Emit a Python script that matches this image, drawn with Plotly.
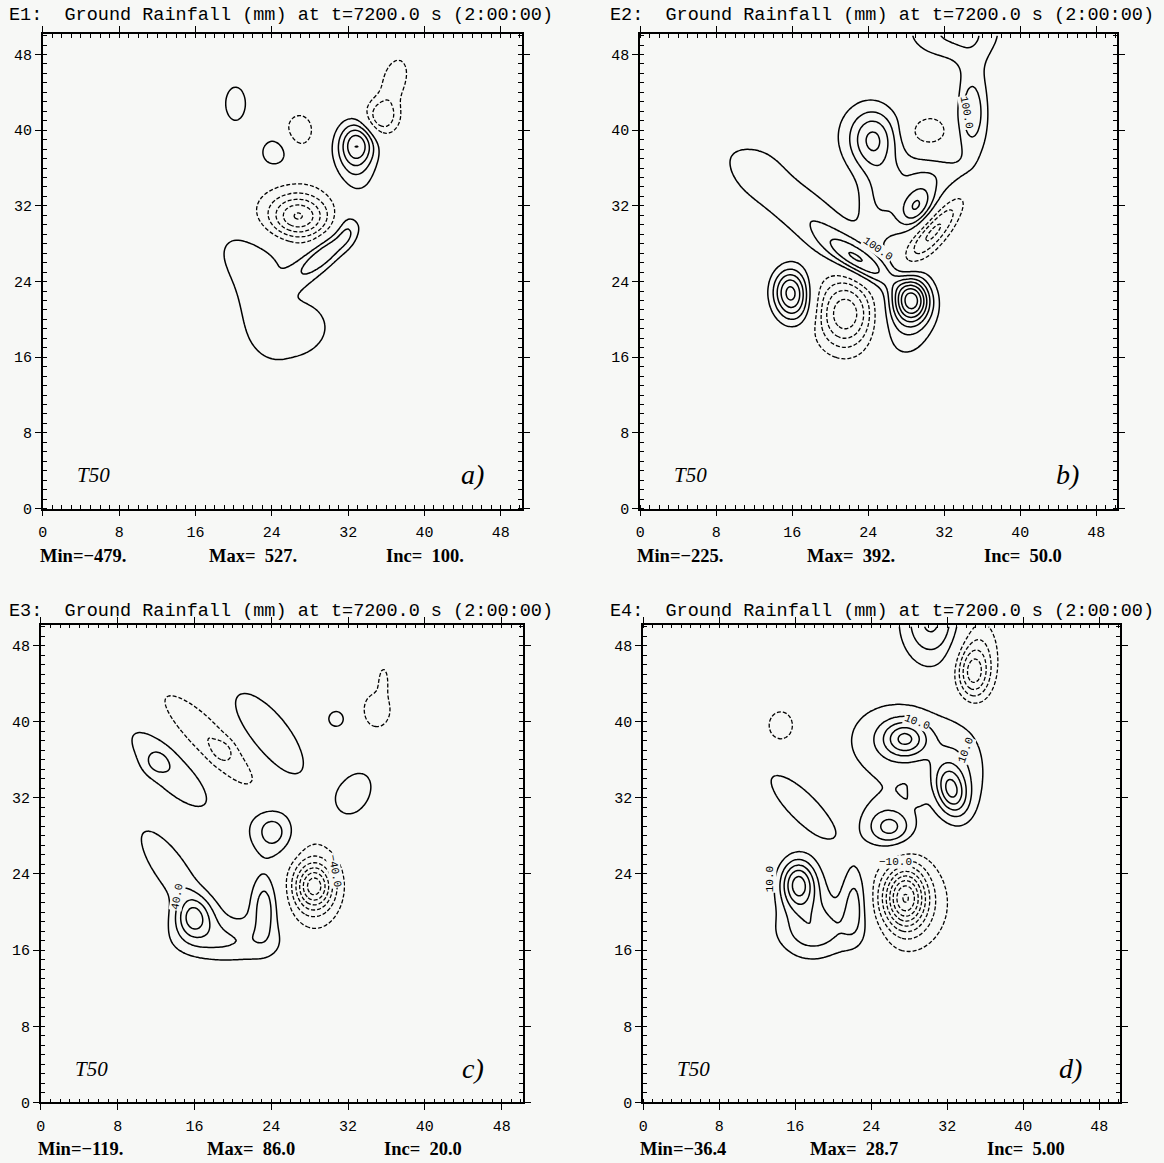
import numpy as np
import plotly.graph_objects as go

# ---------------- data (blob descriptions) ----------------
# each field = sum of elliptical blobs: centre x, centre y, amplitude (mm),
# sigma along the rotated axis, sigma across it, rotation (deg)
a_x   = [33.0, 32.6, 35.5, 36.9, 20.2, 26.9, 24.3, 26.8, 26.4, 29.6, 22.2, 26.0, 21.8, 31.8]
a_y   = [38.6, 36.2, 41.4, 45.4, 42.8, 40.0, 37.6, 30.8, 31.6, 27.0, 26.6, 18.9, 22.5, 29.8]
a_amp = [400, 170, -300, -190, 170, -170, 170, -370, -150, 300, 138, 160, 125, 110]
a_sa  = [1.6, 2.6, 1.4, 1.8, 1.7, 1.5, 1.35, 2.0, 3.5, 2.8, 3.0, 3.7, 3.5, 1.5]
a_sc  = [1.3, 1.6, 1.3, 1.0, 1.0, 1.25, 1.25, 1.5, 2.4, 0.9, 2.0, 2.9, 1.2, 0.8]
a_rot = [90, 100, 70, 75, 90, 90, 90, 0, 0, 41, -20, 10, -70, 90]

b_x   = [28.6, 27.8, 31.0, 21.6, 15.8, 16.6, 23.0, 17.0, 12.5, 24.5, 24.2, 25.2, 30.2, 31.0, 34.8, 35.1, 33.0, 29.0, 29.5, 30.5]
b_y   = [22.0, 20.0, 29.5, 20.6, 23.0, 20.8, 26.2, 31.5, 36.0, 38.9, 39.5, 32.5, 39.8, 43.0, 42.0, 42.0, 50.5, 31.8, 33.0, 35.5]
b_amp = [300, 90, -175, -240, 250, 70, 170, 90, 30, 135, 75, 80, -95, -25, 95, 60, 110, 150, 60, 60]
b_sa  = [1.6, 3.2, 3.5, 2.7, 1.7, 1.5, 3.0, 7.5, 2.0, 1.6, 3.0, 3.0, 1.6, 2.0, 1.0, 5.5, 3.5, 1.7, 3.0, 3.0]
b_sc  = [1.3, 2.2, 1.0, 2.2, 1.3, 1.5, 1.0, 2.0, 2.0, 2.1, 3.0, 1.6, 1.1, 3.0, 2.4, 1.4, 2.2, 1.1, 2.0, 1.3]
b_rot = [90, 90, 50, 90, 90, 0, -33, -38, 0, 0, 0, 90, 0, 90, 0, 90, 0, 60, 0, 0]

c_x   = [15.8, 13.5, 19.5, 23.3, 23.5, 28.5, 28.2, 24.3, 32.6, 30.8, 35.0, 35.7, 13.4, 12.0, 17.6, 19.0, 23.8, 17.0]
c_y   = [19.4, 24.5, 16.8, 20.5, 20.8, 22.7, 22.7, 28.5, 32.4, 40.3, 41.2, 44.6, 35.0, 35.7, 38.0, 37.0, 38.7, 19.0]
c_amp = [62, 38, 34, 32, 24, -95, -40, 52, 32, 26, -32, -24, 36, 18, -40, -15, 40, 15]
c_sa  = [1.5, 4.2, 4.2, 2.0, 3.4, 1.6, 3.8, 1.9, 2.4, 1.1, 1.8, 1.2, 4.8, 0.9, 5.5, 0.8, 4.4, 2.5]
c_sc  = [1.3, 1.4, 1.6, 0.8, 1.6, 1.3, 2.4, 1.7, 1.6, 1.1, 1.4, 0.45, 1.7, 0.9, 1.5, 0.8, 1.7, 2.0]
c_rot = [90, -55, 0, 90, 90, 90, 90, 110, 60, 0, 90, 90, -45, 0, -45, 0, -52, 0]

d_x   = [16.3, 17.5, 22.3, 19.5, 27.6, 27.8, 16.7, 27.6, 26.3, 32.4, 33.2, 26.0, 25.5, 29.0, 30.3, 34.7, 35.3, 14.5]
d_y   = [23.0, 19.5, 21.2, 17.8, 21.5, 20.8, 31.1, 38.2, 38.0, 32.8, 34.5, 28.8, 29.5, 32.5, 50.5, 45.0, 47.5, 39.6]
d_amp = [24, 9, 13, 7, -31, -10, 9, 18, 9, 19, 9, 12, 6, 4, 16, -18, -9, -8]
d_sa  = [1.8, 3.0, 2.6, 4.0, 2.2, 3.8, 4.0, 1.6, 4.0, 1.8, 3.8, 1.6, 2.5, 0.9, 2.2, 1.9, 3.0, 1.5]
d_sc  = [1.3, 2.2, 1.0, 1.8, 1.5, 3.4, 1.3, 1.3, 3.3, 1.1, 2.2, 1.3, 2.5, 0.6, 3.0, 1.2, 1.6, 1.3]
d_rot = [90, 90, 90, 0, 90, 90, -45, 0, 0, 105, 90, 0, 0, 90, 0, 90, 90, 90]

# contour labels visible in the picture: panel index, text, x, y, angle
label_panel = [1, 1, 2, 2, 3, 3, 3, 3]
label_text  = ["100.0", "100.0", "40.0", "\u221240.0", "10.0", "10.0", "\u221210.0", "10.0"]
label_x     = [25.0, 34.3, 14.2, 30.6, 13.3, 34.0, 26.6, 28.8]
label_y     = [27.4, 41.9, 21.6, 24.3, 23.4, 37.0, 25.3, 40.0]
label_ang   = [35, 80, -80, 80, -90, -70, 0, 20]

panel_ids   = ["E1", "E2", "E3", "E4"]
panel_tags  = ["a)", "b)", "c)", "d)"]
panel_min   = ["\u2212479.", "\u2212225.", "\u2212119.", "\u221236.4"]
panel_max   = ["527.", "392.", "86.0", "28.7"]
panel_inc   = [100.0, 50.0, 20.0, 5.00]
panel_inc_t = ["100.", "50.0", "20.0", "5.00"]
tick_vals   = [0, 8, 16, 24, 32, 40, 48]

blobs = [
    (a_x, a_y, a_amp, a_sa, a_sc, a_rot),
    (b_x, b_y, b_amp, b_sa, b_sc, b_rot),
    (c_x, c_y, c_amp, c_sa, c_sc, c_rot),
    (d_x, d_y, d_amp, d_sa, d_sc, d_rot),
]

grid = np.arange(0, 50.25, 0.25)
GX, GY = np.meshgrid(grid, grid)


def field(bx, by, bamp, bsa, bsc, brot):
    z = np.zeros_like(GX)
    for x0, y0, amp, sa, sc, rot in zip(bx, by, bamp, bsa, bsc, brot):
        t = np.deg2rad(rot)
        dx, dy = GX - x0, GY - y0
        u = dx * np.cos(t) + dy * np.sin(t)
        v = -dx * np.sin(t) + dy * np.cos(t)
        z += amp * np.exp(-0.5 * ((u / sa) ** 2 + (v / sc) ** 2))
    return np.round(z, 2)


# ---------------- layout geometry ----------------
W, H = 1164, 1163
xdom = [[38 / W, 519 / W], [638 / W, 1117 / W], [36 / W, 520 / W], [641 / W, 1120 / W]]
ydom = [[1 - 513 / H, 1 - 34 / H], [1 - 513 / H, 1 - 34 / H],
        [1 - 1112 / H, 1 - 630 / H], [1 - 1112 / H, 1 - 630 / H]]
title_y = [16, 16, 617, 617]
title_x = [2, 606, 2, 606]
stat_y = [561, 561, 1159, 1159]

fig = go.Figure()
BG = "#f7f8f6"
FONT = "Liberation Mono"
SERIF = "Liberation Serif"

annotations = []
for i in range(4):
    z = field(*blobs[i])
    inc = panel_inc[i]
    zmax, zmin = z.max(), z.min()
    ax = "" if i == 0 else str(i + 1)
    common = dict(x=grid, y=grid, z=z, showscale=False, hoverinfo="skip",
                  colorscale=[[0, "black"], [1, "black"]],
                  xaxis="x" + ax, yaxis="y" + ax)
    npos = int(np.floor(zmax / inc))
    nneg = int(np.floor(-zmin / inc))
    if npos >= 1:
        fig.add_trace(go.Contour(
            **common, autocontour=False,
            contours=dict(start=inc, end=npos * inc, size=inc, coloring="lines"),
            line=dict(width=1.5, color="black")))
    if nneg >= 1:
        fig.add_trace(go.Contour(
            **common, autocontour=False,
            contours=dict(start=-nneg * inc, end=-inc, size=inc, coloring="lines"),
            line=dict(width=1.3, color="black", dash="4px,2px")))

    axis_common = dict(range=[0, 50.2], showgrid=False, zeroline=False,
                       showline=True, linecolor="black", linewidth=1.8,
                       mirror="allticks", ticks="outside", ticklen=6, tickwidth=1.4,
                       tickcolor="black", tickvals=tick_vals,
                       tickfont=dict(family=FONT, size=15, color="black"),
                       minor=dict(dtick=1, ticks="inside", ticklen=4, tickwidth=1, tickcolor="black"))
    fig.layout["xaxis" + ax] = go.layout.XAxis(domain=xdom[i], anchor="y" + ax,
                                               ticklabelstandoff=3, **axis_common)
    fig.layout["yaxis" + ax] = go.layout.YAxis(domain=ydom[i], anchor="x" + ax, **axis_common)

    annotations.append(dict(
        text=f"{panel_ids[i]}:\u00a0 Ground Rainfall (mm) at t=7200.0 s (2:00:00)",
        x=title_x[i] / W, y=1 - title_y[i] / H, xref="paper", yref="paper",
        xanchor="left", yanchor="middle", showarrow=False,
        font=dict(family=FONT, size=18.5, color="black")))
    x0p = xdom[i][0] * W
    for txt, off in (("Min=" + panel_min[i], -5), ("Max=\u00a0 " + panel_max[i], 165),
                     ("Inc=\u00a0 " + panel_inc_t[i], 343)):
        annotations.append(dict(
            text="<b>" + txt + "</b>", x=(x0p + off) / W, y=1 - stat_y[i] / H,
            xref="paper", yref="paper", xanchor="left", yanchor="middle", showarrow=False,
            font=dict(family=SERIF, size=18.5, color="black")))
    annotations.append(dict(
        text="<i>T50</i>", x=5.3, y=3.5, xref="x" + ax, yref="y" + ax,
        xanchor="center", yanchor="middle", showarrow=False,
        font=dict(family=SERIF, size=21, color="black")))
    annotations.append(dict(
        text="<i>" + panel_tags[i] + "</i>", x=45.0, y=3.6, xref="x" + ax, yref="y" + ax,
        xanchor="center", yanchor="middle", showarrow=False,
        font=dict(family=SERIF, size=28, color="black")))

for p, t, lx, ly, la in zip(label_panel, label_text, label_x, label_y, label_ang):
    ax = "" if p == 0 else str(p + 1)
    annotations.append(dict(
        text=t, x=lx, y=ly, xref="x" + ax, yref="y" + ax, textangle=la,
        xanchor="center", yanchor="middle", showarrow=False, bgcolor=BG, borderpad=0,
        font=dict(family=FONT, size=11, color="black")))

fig.update_layout(width=W, height=H, margin=dict(l=0, r=0, t=0, b=0),
                  paper_bgcolor=BG, plot_bgcolor=BG, showlegend=False,
                  annotations=annotations)
fig.write_html("out.html", config={"displayModeBar": False},
               post_script="document.body.style.margin='0';document.body.style.background='%s';" % BG)
